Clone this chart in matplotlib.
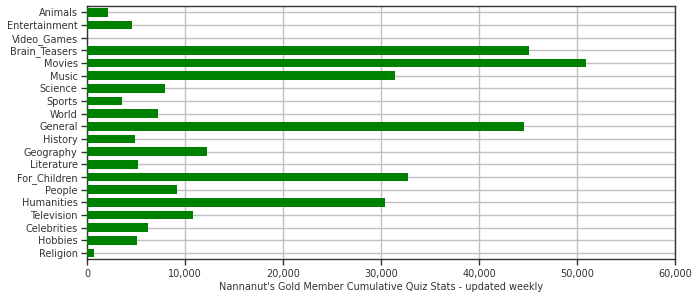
import matplotlib
matplotlib.use("Agg")
import matplotlib.pyplot as plt
from matplotlib.ticker import FuncFormatter

categories = ["Animals", "Entertainment", "Video_Games", "Brain_Teasers", "Movies",
              "Music", "Science", "Sports", "World", "General", "History",
              "Geography", "Literature", "For_Children", "People", "Humanities",
              "Television", "Celebrities", "Hobbies", "Religion"]
values = [2110, 4590, 0, 45100, 50900, 31400, 7930, 3540, 7180, 44560, 4870,
          12210, 5140, 32720, 9150, 30380, 10790, 6190, 5070, 680]
xticks = [0, 10000, 20000, 30000, 40000, 50000, 60000]

plt.rcParams["font.family"] = "DejaVu Sans"
plt.rcParams["font.size"] = 7

fig = plt.figure(figsize=(7, 3), dpi=100)
ax = fig.add_axes([87.3 / 700, 1 - 259.3 / 300, 588 / 700, 253.3 / 300])

pos = list(range(len(categories)))
ax.barh(pos, values, height=0.7, color="#008000", zorder=3)
ax.set_ylim(len(categories) - 0.5, -0.5)
ax.set_yticks(pos)
ax.set_yticklabels(categories)
ax.set_xlim(0, 60000)
ax.set_xticks(xticks)
ax.xaxis.set_major_formatter(FuncFormatter(lambda v, p: f"{int(v):,}"))
ax.set_xlabel("Nannanut's Gold Member Cumulative Quiz Stats - updated weekly",
              color="#333333", labelpad=2)

ax.grid(True, color="#c0c0c0", linewidth=1, zorder=0)
ax.set_axisbelow(True)
for s in ax.spines.values():
    s.set_color("#333333")
    s.set_linewidth(1)
ax.tick_params(colors="#333333", length=4, width=1, pad=3)

fig.savefig("out.png", dpi=100)
